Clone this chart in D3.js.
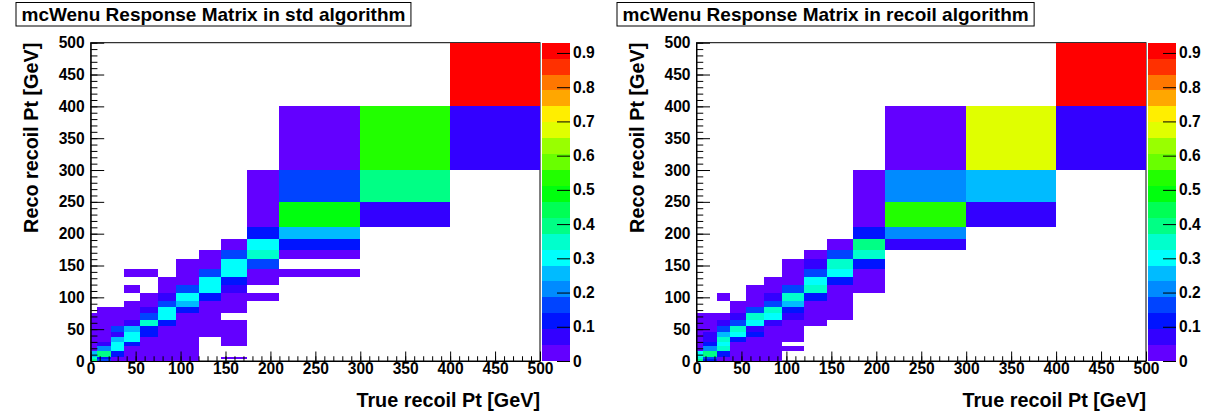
<!DOCTYPE html>
<html lang="en">
<head>
<meta charset="utf-8" />
<title>mcWenu Response Matrix</title>
<script src="https://d3js.org/d3.v7.min.js"></script>
<style>
  body { margin: 0; background: #ffffff; }
  svg text { font-family: "Liberation Sans", Arial, Helvetica, sans-serif; font-weight: bold; fill: #000000; }
</style>
</head>
<body>
<svg id="target" width="1215" height="418" xmlns="http://www.w3.org/2000/svg"></svg>
<script>
// bin edges in GeV (x = true recoil Pt, y = reco recoil Pt)
const trueEdges = [0, 7, 23, 37, 55, 75, 95, 120, 145, 174, 210, 300, 400, 500];
const recoEdges = [0, 3.5, 7, 15, 23, 30, 37, 46, 55, 65, 75, 85, 95, 107.5, 120, 132.5,
                   145, 159.5, 174, 192, 210, 250, 300, 400, 500];

// one row per reco bin (lowest first), one column per true bin, 0 = empty bin
const stdValues = [
  [.40,.16,.02,.02,.02,.02,.02,0,0,0,0,0,0],
  [.35,.11,.02,.02,.02,.02,.02,0,.02,0,0,0,0],
  [.26,.40,.11,.02,.02,.02,.02,0,0,0,0,0,0],
  [.02,.21,.30,.02,.02,.02,.02,0,0,0,0,0,0],
  [.02,.07,.30,.11,.02,.02,.02,0,.02,0,0,0,0],
  [.02,.02,.26,.30,.02,.02,.02,0,.02,0,0,0,0],
  [.02,.02,.07,.30,.11,.02,.02,.02,.02,0,0,0,0],
  [.02,.02,.16,.26,.11,.02,.02,.02,.02,0,0,0,0],
  [.02,.02,.02,.07,.35,.11,.02,.02,.02,0,0,0,0],
  [.02,.02,.02,.02,.16,.30,.02,.02,0,0,0,0,0],
  [0,.02,.02,.02,.07,.30,.11,.02,.02,0,0,0,0],
  [0,0,0,.02,.02,.16,.26,.02,.02,0,0,0,0],
  [0,0,0,0,.02,.07,.30,.11,.02,.02,0,0,0],
  [0,0,0,.02,0,.02,.16,.30,.07,0,0,0,0],
  [0,0,0,0,0,.02,.02,.30,.11,.02,0,0,0],
  [0,0,0,.02,.02,0,.02,.16,.30,.02,.02,0,0],
  [0,0,0,0,0,0,.02,.02,.30,.16,0,0,0],
  [0,0,0,0,0,0,0,.02,.16,.35,.02,0,0],
  [0,0,0,0,0,0,0,0,.02,.30,.11,0,0],
  [0,0,0,0,0,0,0,0,0,.11,.26,0,0],
  [0,0,0,0,0,0,0,0,0,.02,.49,.07,0],
  [0,0,0,0,0,0,0,0,0,.02,.16,.40,0],
  [0,0,0,0,0,0,0,0,0,0,.02,.54,.07],
  [0,0,0,0,0,0,0,0,0,0,0,0,.93]
];

const recoilValues = [
  [.40,.11,.02,.02,.02,.02,0,0,0,0,0,0,0],
  [.35,.16,.02,.02,.02,.02,0,0,0,0,0,0,0],
  [.30,.40,.11,.02,.02,.02,0,0,0,0,0,0,0],
  [.02,.21,.35,.02,.02,.02,.02,0,0,0,0,0,0],
  [.02,.11,.30,.02,.02,.02,0,0,0,0,0,0,0],
  [.02,.07,.35,.11,.02,.02,.02,0,0,0,0,0,0],
  [.02,.07,.26,.30,.11,.02,.02,0,0,0,0,0,0],
  [.02,.02,.16,.35,.07,.02,.02,0,0,0,0,0,0],
  [.02,.02,.07,.16,.30,.07,.02,.02,0,0,0,0,0],
  [.02,.02,.02,.07,.35,.30,.07,.02,.02,0,0,0,0],
  [0,0,0,.02,.16,.35,.11,.02,.02,0,0,0,0],
  [0,0,0,.02,.02,.16,.26,.02,.02,0,0,0,0],
  [0,0,.02,0,.02,.07,.35,.11,.02,0,0,0,0],
  [0,0,0,0,.02,.02,.16,.35,.02,.02,0,0,0],
  [0,0,0,0,0,.02,.02,.30,.11,.02,0,0,0],
  [0,0,0,0,0,0,.02,.16,.30,.02,0,0,0],
  [0,0,0,0,0,0,.02,.07,.35,.11,0,0,0],
  [0,0,0,0,0,0,0,.02,.16,.35,0,0,0],
  [0,0,0,0,0,0,0,0,.02,.40,.07,0,0],
  [0,0,0,0,0,0,0,0,0,.11,.21,0,0],
  [0,0,0,0,0,0,0,0,0,.02,.54,.07,0],
  [0,0,0,0,0,0,0,0,0,.02,.21,.26,0],
  [0,0,0,0,0,0,0,0,0,0,.02,.68,.07],
  [0,0,0,0,0,0,0,0,0,0,0,0,.93]
];

const ptTicks = [0, 50, 100, 150, 200, 250, 300, 350, 400, 450, 500];
const zTicks = [0, 0.1, 0.2, 0.3, 0.4, 0.5, 0.6, 0.7, 0.8, 0.9];
const titles = ["mcWenu Response Matrix in std algorithm",
                "mcWenu Response Matrix in recoil algorithm"];
const xTitle = "True recoil Pt [GeV]";
const yTitle = "Reco recoil Pt [GeV]";

// ROOT "pretty" palette (hue 280 -> 0), 20 contour levels
const nLevels = 20;
const palette = d3.range(nLevels).map(k => {
  const idx = Math.floor((k + 0.99) * 50 / nLevels);
  return d3.hsl(280 - (idx + 1) * 5.6, 1, 0.5).formatHex();
});

const layout = [
  {left: 90.7, right: 540, boxX: 16, barX: 542, yTitleX: 37.5},
  {left: 696.5, right: 1146, boxX: 617, barX: 1148, yTitleX: 643.5}
];
const frameTop = 42.7, frameBottom = 361;
const barW = 28;

const svg = d3.select("#target");
svg.append("rect").attr("width", 1215).attr("height", 418).attr("fill", "#ffffff");

function styleAxis(g, size) {
  g.attr("font-family", null).attr("font-size", size).attr("font-weight", "bold");
  g.selectAll("line").attr("stroke", "#000000");
  g.selectAll("text").attr("fill", "#000000");
}

function drawPanel(values, title, L) {
  const g = svg.append("g");
  const x = d3.scaleLinear().domain([0, 500]).range([L.left, L.right]);
  const y = d3.scaleLinear().domain([0, 500]).range([frameBottom, frameTop]);
  const zmax = d3.max(values.flat());
  const z = d3.scaleLinear().domain([0, zmax]).range([frameBottom, frameTop]);
  const color = d3.scaleQuantize().domain([0, zmax]).range(palette);

  // frame
  g.append("rect")
    .attr("x", L.left).attr("y", frameTop)
    .attr("width", L.right - L.left).attr("height", frameBottom - frameTop)
    .attr("fill", "#ffffff").attr("stroke", "#000000").attr("stroke-width", 1);

  // bins
  const cells = [];
  values.forEach((row, j) => row.forEach((v, i) => { if (v > 0) cells.push({i, j, v}); }));
  g.selectAll("rect.cell")
    .data(cells)
    .enter()
    .append("rect")
    .attr("class", "cell")
    .attr("x", d => x(trueEdges[d.i]))
    .attr("y", d => y(recoEdges[d.j + 1]))
    .attr("width", d => x(trueEdges[d.i + 1]) - x(trueEdges[d.i]))
    .attr("height", d => y(recoEdges[d.j]) - y(recoEdges[d.j + 1]))
    .attr("fill", d => color(d.v))
    .attr("shape-rendering", "crispEdges");

  // axes: major ticks every 50, minor every 10, drawn inside the frame
  const xMinor = g.append("g").attr("transform", `translate(0,${frameBottom})`)
    .call(d3.axisBottom(x).ticks(50).tickSizeInner(-4.75).tickSizeOuter(0).tickFormat(""));
  xMinor.select(".domain").remove();
  const xAxis = g.append("g").attr("transform", `translate(0,${frameBottom})`)
    .call(d3.axisBottom(x).tickValues(ptTicks).tickSizeInner(-9.5).tickSizeOuter(0).tickPadding(2));
  styleAxis(xMinor, 15.6);
  styleAxis(xAxis, 15.6);
  xAxis.select(".domain").attr("stroke", "#000000");

  const yMinor = g.append("g").attr("transform", `translate(${L.left},0)`)
    .call(d3.axisLeft(y).ticks(50).tickSizeInner(-6.75).tickSizeOuter(0).tickFormat(""));
  yMinor.select(".domain").remove();
  const yAxis = g.append("g").attr("transform", `translate(${L.left},0)`)
    .call(d3.axisLeft(y).tickValues(ptTicks).tickSizeInner(-13.5).tickSizeOuter(0).tickPadding(6));
  styleAxis(yMinor, 15.6);
  styleAxis(yAxis, 15.6);
  yAxis.select(".domain").attr("stroke", "#000000");

  // palette bar
  const bands = d3.range(nLevels).map(k => ({lo: zmax * k / nLevels, hi: zmax * (k + 1) / nLevels, c: palette[k]}));
  g.selectAll("rect.band")
    .data(bands)
    .enter()
    .append("rect")
    .attr("class", "band")
    .attr("x", L.barX).attr("width", barW)
    .attr("y", d => z(d.hi))
    .attr("height", d => z(d.lo) - z(d.hi))
    .attr("fill", d => d.c)
    .attr("shape-rendering", "crispEdges");
  const zAxis = g.append("g").attr("transform", `translate(${L.barX + barW},0)`)
    .call(d3.axisRight(z).tickValues(zTicks).tickSizeInner(-13).tickSizeOuter(0).tickPadding(3)
      .tickFormat(d => d === 0 ? "0" : d.toFixed(1)));
  styleAxis(zAxis, 15.6);
  zAxis.select(".domain").remove();

  // title box
  const box = g.append("rect")
    .attr("x", L.boxX).attr("y", 2.5).attr("height", 23.5)
    .attr("fill", "#ffffff").attr("stroke", "#000000").attr("stroke-width", 1);
  const t = g.append("text").attr("x", L.boxX + 5.5).attr("y", 21)
    .attr("font-size", 19).text(title);
  box.attr("width", t.node().getComputedTextLength() + 11);

  // axis titles
  g.append("text").attr("x", L.right).attr("y", 407)
    .attr("text-anchor", "end").attr("font-size", 19.8).text(xTitle);
  g.append("text")
    .attr("transform", `translate(${L.yTitleX},${frameTop}) rotate(-90)`)
    .attr("text-anchor", "end").attr("font-size", 19.8).text(yTitle);
}

drawPanel(stdValues, titles[0], layout[0]);
drawPanel(recoilValues, titles[1], layout[1]);
</script>
</body>
</html>
